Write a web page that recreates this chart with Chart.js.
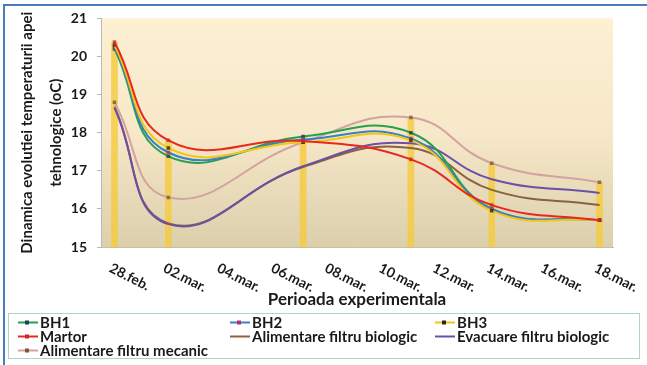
<!DOCTYPE html>
<html>
<head>
<meta charset="utf-8">
<script src="https://cdn.jsdelivr.net/npm/chart.js@4.4.1/dist/chart.umd.min.js"></script>
<style>
  html, body { margin: 0; padding: 0; background: #fff; }
  #wrap { position: relative; width: 647px; height: 365px; overflow: hidden; }
  #frame { position: absolute; left: 3px; top: 4px; width: 700px; height: 400px;
    border-top: 2px solid #4a7ebb; border-left: 2px solid #4a7ebb; pointer-events: none; }
  #legend { position: absolute; left: 8px; top: 313px; width: 632px; height: 46px; box-sizing: border-box;
    border: 1px solid #a9d8c6; padding: 2px 0 0 8px; display: grid;
    grid-template-columns: 212px 205px auto; font: bold 15px Lato, sans-serif; color: #1a1a1a; line-height: 13px; }
  .item { display: flex; align-items: center; white-space: nowrap; height: 13px; }
  .item svg { margin-right: 1px; }
</style>
</head>
<body>
<div id="wrap">
  <canvas id="tempChart" width="647" height="365"></canvas>
  <div id="frame"></div>
  <div id="legend"></div>
</div>
<script>
// x axis: days counted from 28.feb
const dayLabels = ["28.feb.", "02.mar.", "04.mar.", "06.mar.", "08.mar.", "10.mar.", "12.mar.", "14.mar.", "16.mar.", "18.mar."]
const labelDays = [0, 2, 4, 6, 8, 10, 12, 14, 16, 18]
const sampleDays = [0, 2, 7, 11, 14, 18]

// temperatures (oC)
const bh1 = [20.2, 17.38, 17.9, 18.0, 16.0, 15.7]
const bh2 = [20.25, 17.48, 17.82, 17.85, 16.0, 15.7]
const bh3 = [20.3, 17.6, 17.75, 17.8, 15.95, 15.7]
const martor = [20.38, 17.8, 17.78, 17.3, 16.1, 15.7]
const alimBiologic = [18.68, 15.62, 17.1, 17.6, 16.5, 16.1]
const evacBiologic = [18.65, 15.6, 17.12, 17.72, 16.78, 16.42]
const alimMecanic = [18.8, 16.3, 17.75, 18.4, 17.2, 16.7]

const yTicks = [15, 16, 17, 18, 19, 20, 21]

// draw: lower number sits on top
const series = [
  { label: "BH1", values: bh1, color: "#25a04c", marker: "#1f3f5a", z: 4 },
  { label: "BH2", values: bh2, color: "#3b7fc6", marker: "#b0307a", z: 3 },
  { label: "BH3", values: bh3, color: "#f2c614", marker: "#2a2a10", z: 2 },
  { label: "Martor", values: martor, color: "#e8281e", marker: "#c02a3a", z: 1 },
  { label: "Alimentare filtru biologic", values: alimBiologic, color: "#8b6240", marker: null, z: 7 },
  { label: "Evacuare filtru biologic", values: evacBiologic, color: "#6c50a8", marker: null, z: 6 },
  { label: "Alimentare filtru mecanic", values: alimMecanic, color: "#d2a3a0", marker: "#7a5a3a", z: 5 },
]

const lineSets = series.map((s) => ({
  type: "line",
  label: s.label,
  data: sampleDays.map((d, i) => ({ x: d, y: s.values[i] })),
  borderColor: s.color,
  borderWidth: 2,
  tension: 0.45,
  pointStyle: "rect",
  pointRadius: s.marker ? 2.5 : 0,
  pointBackgroundColor: s.marker ? s.marker + "cc" : s.color,
  pointBorderWidth: 0,
  order: s.z,
}))

// gold drop bars up to the highest reading of each day
const dropBars = {
  type: "bar",
  label: "drop",
  data: sampleDays.map((d, i) => ({ x: d, y: Math.max(...series.map((s) => s.values[i])) })),
  backgroundColor: "rgba(245, 202, 62, 0.82)",
  barThickness: 6,
  grouped: false,
  order: 20,
}

const plotBackground = {
  id: "plotBackground",
  beforeDraw(chart) {
    const { ctx, chartArea: a } = chart
    const g = ctx.createLinearGradient(0, a.top, 0, a.bottom)
    g.addColorStop(0, "#fdf0d3")
    g.addColorStop(0.5, "#f6e8c8")
    g.addColorStop(1, "#dccfac")
    ctx.save()
    ctx.fillStyle = g
    ctx.fillRect(a.left, a.top, a.right - a.left, a.bottom - a.top)
    ctx.restore()
  },
}

// rotated date labels, text running down to the right
const dateLabels = {
  id: "dateLabels",
  afterDraw(chart) {
    const { ctx, chartArea: a } = chart
    const xs = chart.scales.x
    ctx.save()
    ctx.font = "bold 14px Lato, sans-serif"
    ctx.fillStyle = "#1a1a1a"
    ctx.textAlign = "left"
    ctx.textBaseline = "top"
    labelDays.forEach((d, i) => {
      ctx.save()
      ctx.translate(xs.getPixelForValue(d) - 1, a.bottom + 14)
      ctx.rotate((27 * Math.PI) / 180)
      ctx.fillText(dayLabels[i], 0, 0)
      ctx.restore()
    })
    ctx.restore()
  },
}

const chart = new Chart(document.getElementById("tempChart"), {
  type: "line",
  data: { datasets: [...lineSets, dropBars] },
  options: {
    responsive: false,
    animation: false,
    layout: { padding: { left: 0, top: 16, right: 34, bottom: 55 } },
    scales: {
      x: {
        type: "linear",
        min: -0.5,
        max: 18.5,
        offset: false,
        grid: { display: false },
        border: { display: true, color: "#c9bf9f" },
        ticks: { display: false },
        afterFit: (scale) => { scale.height = 63 },
        title: {
          display: true,
          text: "Perioada experimentala",
          color: "#1a1a1a",
          font: { family: "Lato", size: 17, weight: "bold" },
          padding: { top: 0, bottom: 0 },
        },
      },
      y: {
        min: 15,
        max: 21,
        afterBuildTicks: (scale) => { scale.ticks = yTicks.map((v) => ({ value: v })) },
        grid: { drawOnChartArea: false, tickLength: 4, color: "#b8b8b8" },
        border: { display: true, color: "#b8b8b8" },
        ticks: {
          padding: 10,
          color: "#1a1a1a",
          font: { family: "Lato", size: 14, weight: "bold" },
        },
        afterFit: (scale) => { scale.width = 101 },
        title: {
          display: true,
          text: ["Dinamica evolutiei temperaturii apei", "tehnologice (oC)"],
          color: "#1a1a1a",
          font: { family: "Lato", size: 15, weight: "bold", lineHeight: 1.93 },
          padding: { top: 13, bottom: 0 },
        },
      },
    },
    plugins: {
      legend: { display: false },
      tooltip: { enabled: false },
    },
  },
  plugins: [plotBackground, dateLabels],
})

// legend laid out in three columns like the original
const legendBox = document.getElementById("legend")
series.forEach((s) => {
  const item = document.createElement("div")
  item.className = "item"
  const mark = s.marker
    ? `<rect x="8" y="4.5" width="4" height="4" fill="${s.marker}"/>`
    : ""
  item.innerHTML =
    `<svg width="22" height="13"><line x1="1" y1="6.5" x2="21" y2="6.5" stroke="${s.color}" stroke-width="2"/>${mark}</svg>` +
    `<span>${s.label}</span>`
  legendBox.appendChild(item)
})
</script>
</body>
</html>
